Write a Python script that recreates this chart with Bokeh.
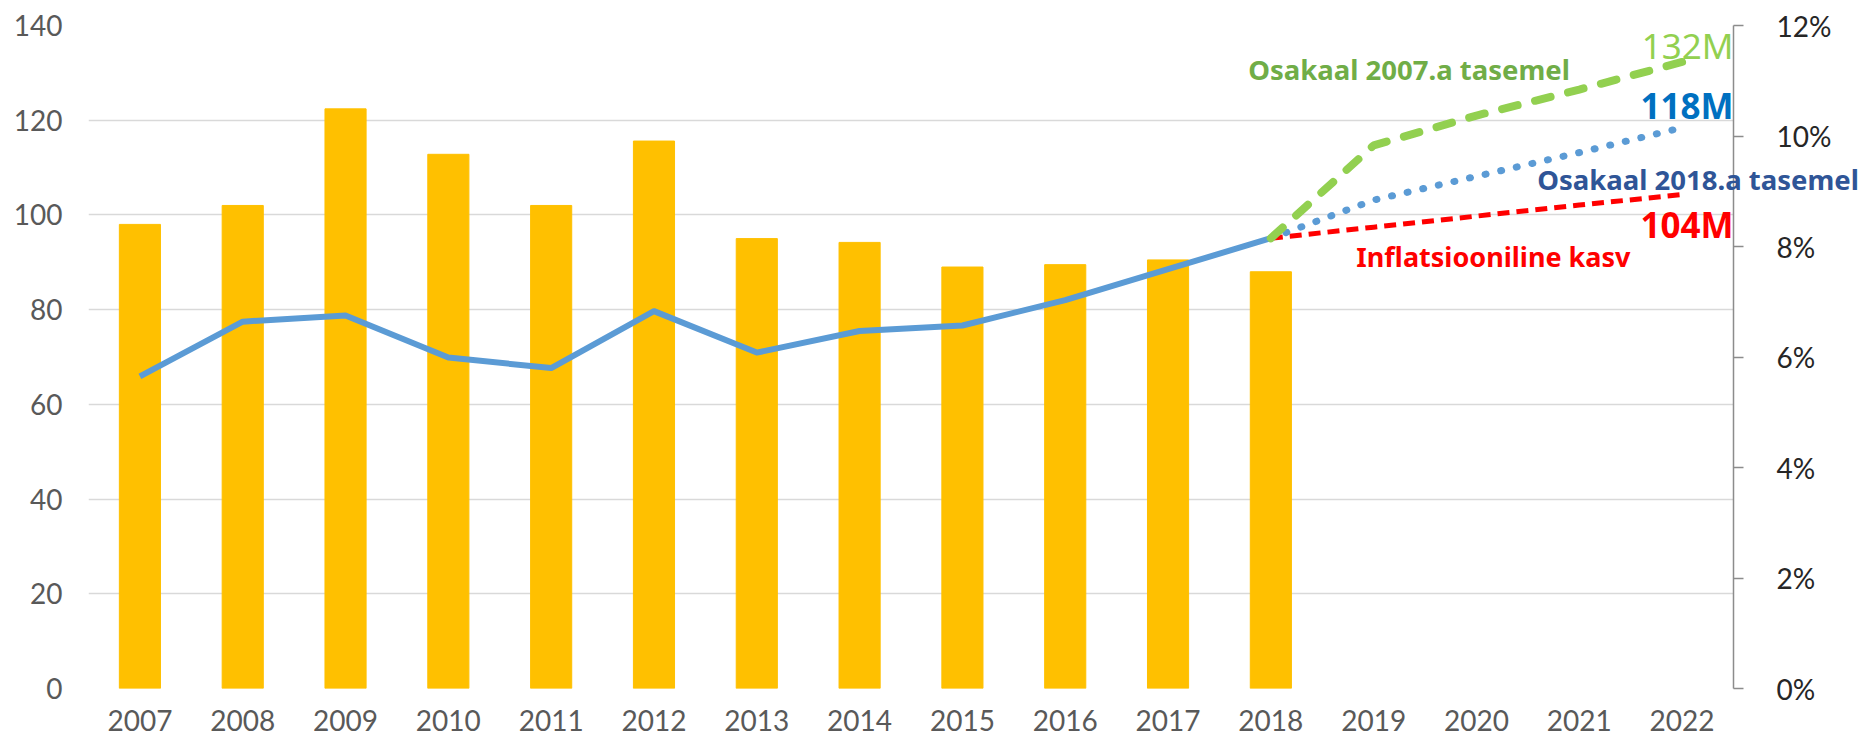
from bokeh.plotting import figure
from bokeh.models import Range1d, LinearAxis, FixedTicker, PrintfTickFormatter, Label, FactorRange
from bokeh.embed import file_html
from bokeh.resources import INLINE

years = ["2007", "2008", "2009", "2010", "2011", "2012", "2013", "2014",
         "2015", "2016", "2017", "2018", "2019", "2020", "2021", "2022"]
bar_years = ["2007", "2008", "2009", "2010", "2011", "2012", "2013", "2014",
             "2015", "2016", "2017", "2018"]
bar_values = [98.0, 102.0, 122.4, 112.8, 102.0, 115.6, 95.0, 94.2, 89.0, 89.5, 90.5, 88.0]
share_pct = [5.65, 6.64, 6.75, 5.99, 5.80, 6.83, 6.08, 6.47, 6.57, 7.03, 7.59, 8.15]
proj_years = ["2018", "2019", "2020", "2021", "2022"]
proj_2007 = [8.15, 9.83, 10.37, 10.84, 11.34]
proj_2018 = [8.15, 8.84, 9.27, 9.70, 10.15]
proj_infl = [8.15, 8.35, 8.55, 8.75, 8.94]
left_ticks = [0, 20, 40, 60, 80, 100, 120, 140]
right_ticks = [0, 2, 4, 6, 8, 10, 12]

AXIS_FONT = "Lato"
LABEL_FONT = "Noto Sans"
TICK_COLOR = "#595959"

# The top border is made deliberately tall (so a label can live in the
# "above" panel, unclipped by the frame) and then pulled up with a negative
# top margin so that the frame still starts 25px from the top of the page.
p = figure(x_range=FactorRange(*years, range_padding=0),
           y_range=Range1d(0, 140),
           width=1867, frame_height=663,
           min_border_left=88, min_border_right=134,
           min_border_top=60, min_border_bottom=56,
           margin=(-35, 0, 0, 0),
           output_backend="svg", toolbar_location=None)
p.extra_y_ranges = {"pct": Range1d(0, 12)}
p.outline_line_color = None
p.background_fill_color = "white"

# grid
p.xgrid.visible = False
p.ygrid.ticker = FixedTicker(ticks=left_ticks)
p.ygrid.grid_line_color = "#D9D9D9"
p.ygrid.grid_line_width = 1.5

# left axis
ly = p.left[0]
ly.ticker = FixedTicker(ticks=left_ticks)
ly.axis_line_color = None
ly.major_tick_line_color = None
ly.major_tick_out = 0
ly.minor_tick_line_color = None
ly.major_label_text_font = AXIS_FONT
ly.major_label_text_font_size = "28px"
ly.major_label_text_color = TICK_COLOR
ly.major_label_standoff = 26

# x axis
xa = p.below[0]
xa.axis_line_color = None
xa.major_tick_line_color = None
xa.major_tick_out = 0
xa.major_label_text_font = AXIS_FONT
xa.major_label_text_font_size = "28px"
xa.major_label_text_color = TICK_COLOR
xa.major_label_standoff = 21

# right axis
ra = LinearAxis(y_range_name="pct", ticker=FixedTicker(ticks=right_ticks),
                formatter=PrintfTickFormatter(format="%d%%"))
ra.axis_line_color = "#8C8C8C"
ra.axis_line_width = 1.5
ra.major_tick_line_color = "#8C8C8C"
ra.major_tick_line_width = 1.5
ra.major_tick_out = 10
ra.major_tick_in = 0
ra.minor_tick_line_color = None
ra.major_label_text_font = AXIS_FONT
ra.major_label_text_font_size = "28px"
ra.major_label_text_color = "#262626"
ra.major_label_standoff = 33
p.add_layout(ra, "right")

# bars and lines
p.vbar(x=bar_years, top=bar_values, width=0.4, color="#FFC000")
p.line(x=bar_years, y=share_pct, y_range_name="pct", line_color="#5B9BD5",
       line_width=6, line_join="round")
p.line(x=proj_years, y=proj_infl, y_range_name="pct", line_color="#FF0000",
       line_width=5, line_dash="12 7")
p.line(x=proj_years, y=proj_2018, y_range_name="pct", line_color="#5B9BD5",
       line_width=7, line_dash="1 15", line_cap="round")
p.line(x=proj_years, y=proj_2007, y_range_name="pct", line_color="#92D050",
       line_width=8, line_dash="16 18", line_cap="round")

labels = [
    ("132M", 16.0, 11.64, "#92D050", "normal", "35px", "right", "center"),
    ("118M", 16.0, 10.55, "#0070C0", "bold", "35px", "right", "center"),
    ("104M", 16.0, 8.40, "#FF0000", "bold", "35px", "right", "center"),
    ("Osakaal 2007.a tasemel", 11.28, 11.2, "#70AD47", "bold", "27.5px", "left", "center"),
    ("Osakaal 2018.a tasemel", 14.09, 9.21, "#2F5597", "bold", "27.5px", "left", "above"),
    ("Inflatsiooniline kasv", 12.33, 7.82, "#FF0000", "bold", "27px", "left", "center"),
]
for txt, x, y, col, weight, size, align, place in labels:
    lbl = Label(x=x, y=y, y_range_name="pct", text=txt, text_color=col,
                text_font=LABEL_FONT, text_font_style=weight,
                text_font_size=size, text_align=align,
                text_baseline="middle")
    p.add_layout(lbl, place)

open("out.html", "w").write(file_html(p, INLINE))
